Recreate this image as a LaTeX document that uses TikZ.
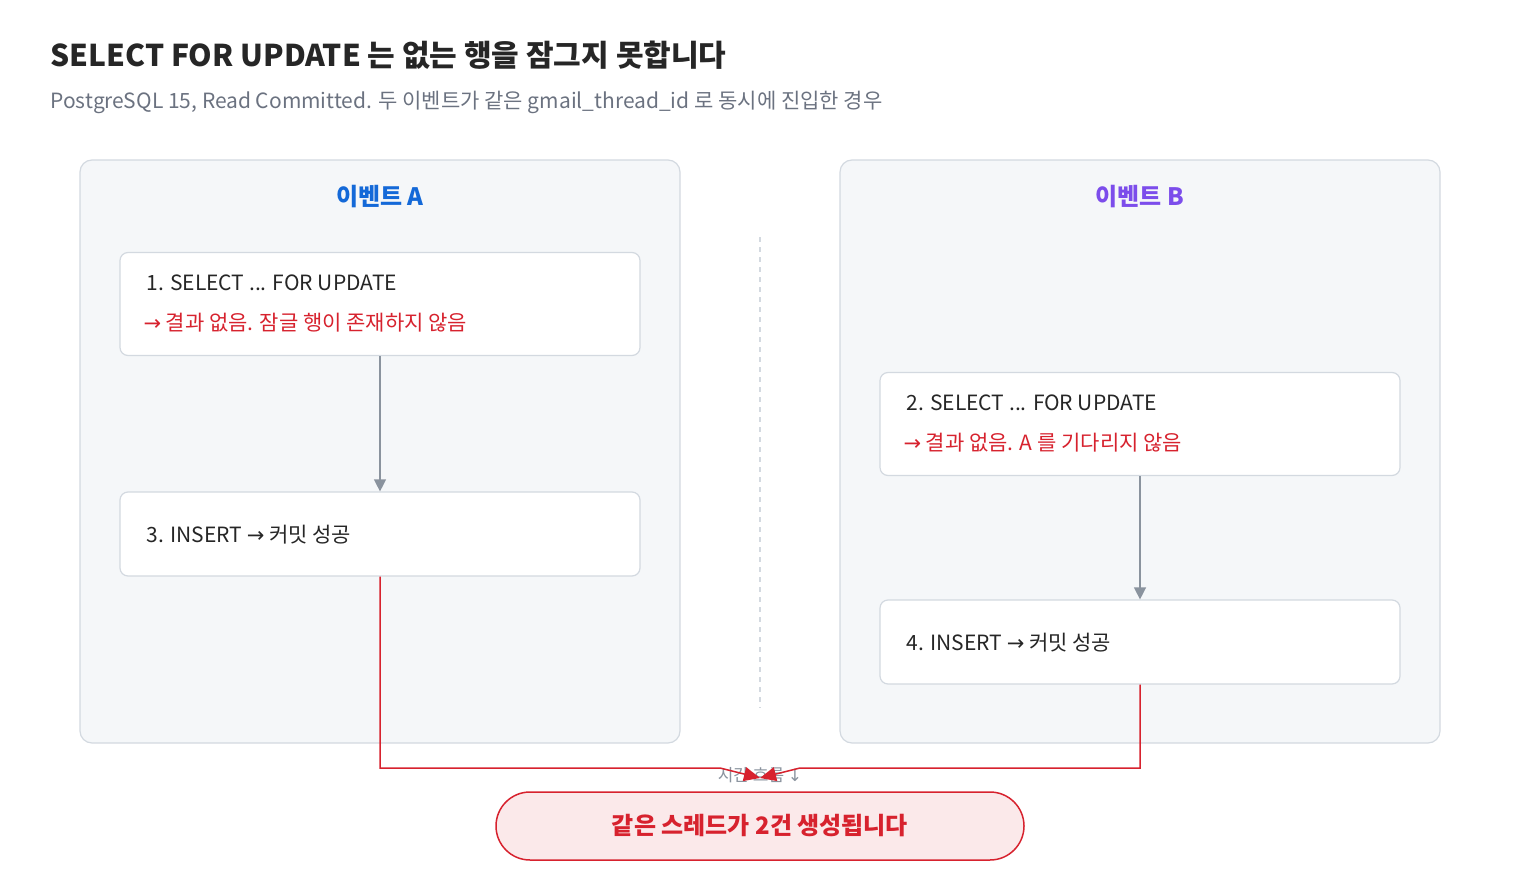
\documentclass[tikz,border=0pt]{standalone}
\usepackage{fontspec}
\setmainfont{Noto Sans CJK KR}
\newfontfamily\djv{DejaVu Sans}
\usetikzlibrary{arrows.meta}
\definecolor{panel}{HTML}{F5F7F9}
\definecolor{panelb}{HTML}{D3D9E0}
\definecolor{redc}{HTML}{D7222E}
\definecolor{blu}{HTML}{1469D8}
\definecolor{pur}{HTML}{7C4DEB}
\definecolor{gr}{HTML}{8A939E}
\definecolor{sub}{HTML}{6B7280}
\begin{document}
\begin{tikzpicture}[x=1pt,y=-1pt,
 panelst/.style={draw=panelb,fill=panel,rounded corners=12pt,line width=1.2pt},
 box/.style={draw=panelb,fill=white,rounded corners=8pt,line width=1.2pt},
 txt/.style={anchor=west,font=\fontsize{21}{24}\selectfont,text=black!85},
 rtxt/.style={anchor=west,font=\fontsize{21}{24}\selectfont,text=redc},
 garr/.style={draw=gr,line width=1.3pt,-{Triangle[length=12pt,width=12pt]}},
 rarr/.style={draw=redc,line width=1.5pt,-{Triangle[length=16pt,width=14pt]}}]
\useasboundingbox (0,0) rectangle (1520,880);
\node[anchor=west,font=\fontsize{30}{34}\selectfont\bfseries,text=black!85] (title) at (47,55) {SELECT FOR UPDATE 는 없는 행을 잠그지 못합니다};
\node[anchor=west,font=\fontsize{21}{24}\selectfont,text=sub] (subt) at (47,102) {PostgreSQL 15, Read Committed. 두 이벤트가 같은 gmail\_thread\_id 로 동시에 진입한 경우};
\path[panelst] (80,160) rectangle (680,743);
\path[panelst] (840,160) rectangle (1440,743);
\node[font=\fontsize{24}{28}\selectfont\bfseries,text=blu] (ha) at (380,197) {이벤트 A};
\node[font=\fontsize{24}{28}\selectfont\bfseries,text=pur] (hb) at (1140,197) {이벤트 B};
\draw[panelb,line width=1.2pt,dash pattern=on 5pt off 5pt] (760,237) -- (760,708);
\node[box,minimum width=520pt,minimum height=103pt] (a1) at (380,304) {};
\node[txt] at (143,283) {1. SELECT ... FOR UPDATE};
\node[rtxt] at (140,323) {{\djv →} 결과 없음. 잠글 행이 존재하지 않음};
\node[box,minimum width=520pt,minimum height=84pt] (a3) at (380,534) {};
\node[txt] at (143,535) {3. INSERT {\djv →} 커밋 성공};
\node[box,minimum width=520pt,minimum height=103pt] (b2) at (1140,424) {};
\node[txt] at (903,403) {2. SELECT ... FOR UPDATE};
\node[rtxt] at (900,443) {{\djv →} 결과 없음. A 를 기다리지 않음};
\node[box,minimum width=520pt,minimum height=84pt] (b4) at (1140,642) {};
\node[txt] at (903,643) {4. INSERT {\djv →} 커밋 성공};
\draw[garr] (a1.south) -- (a3.north);
\draw[garr] (b2.south) -- (b4.north);
\node[font=\fontsize{17}{20}\selectfont,text=gr] (time) at (760,775) {시간 흐름 {\djv ↓}};
\node[draw=redc,fill=redc!10,line width=1.5pt,rounded corners=34pt,minimum width=528pt,minimum height=68pt,font=\fontsize{24}{28}\selectfont\bfseries,text=redc] (res) at (760,826) {같은 스레드가 2건 생성됩니다};
\coordinate (m) at (760,778);
\draw[rarr] (a3.south) -- (380,768) -- (720,768) -- (m);
\draw[rarr] (b4.south) -- (1140,768) -- (800,768) -- (m);
\end{tikzpicture}
\end{document}
